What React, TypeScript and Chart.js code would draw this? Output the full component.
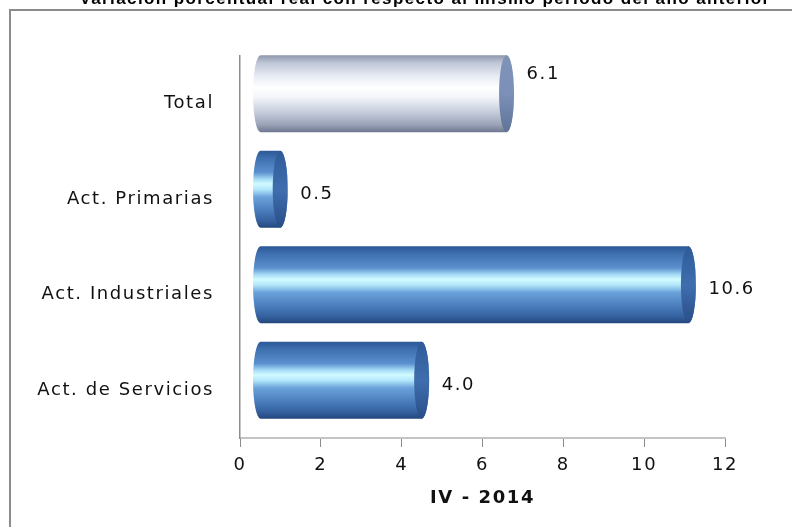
import React, { useEffect, useRef } from "react";
import { Chart, registerables } from "chart.js";

Chart.register(...registerables);

const chartTitle = "Variación porcentual real con respecto al mismo período del año anterior";
const axisTitle = "IV - 2014";
const categories = ["Total", "Act. Primarias", "Act. Industriales", "Act. de Servicios"];
const values = [6.1, 0.5, 10.6, 4.0];
const valueLabels = ["6.1", "0.5", "10.6", "4.0"];
const xMin = 0;
const xMax = 12;
const xStep = 2;

const FONT = "'DejaVu Sans', 'Noto Sans', sans-serif";
const SPACING = "1.6px";

const cylinderPlugin = {
  id: "cylinders",
  beforeDraw(chart: any) {
    const ctx = chart.ctx;
    ctx.save();
    ctx.strokeStyle = "#8c8c8c";
    ctx.lineWidth = 2;
    ctx.beginPath();
    ctx.moveTo(10, 900);
    ctx.lineTo(10, 10);
    ctx.lineTo(900, 10);
    ctx.stroke();
    ctx.restore();
    ctx.letterSpacing = SPACING;
  },
  afterDatasetsDraw(chart: any) {
    const ctx = chart.ctx;
    const meta = chart.getDatasetMeta(0);
    meta.data.forEach((bar: any, i: number) => {
      const p = bar.getProps(["x", "y", "base", "height"], true);
      const dx = 20;
      const dy = -10;
      const rx = 7.5;
      const L = p.base + dx;
      const R = p.x + dx;
      const cy = p.y + dy;
      const ry = p.height / 2;
      const top = cy - ry;
      const bottom = cy + ry;
      const silver = i === 0;
      const g = ctx.createLinearGradient(0, top, 0, bottom);
      if (silver) {
        g.addColorStop(0, "#8e97ad");
        g.addColorStop(0.1, "#bfc6d6");
        g.addColorStop(0.28, "#e9edf5");
        g.addColorStop(0.42, "#ffffff");
        g.addColorStop(0.55, "#f2f4f9");
        g.addColorStop(0.75, "#c3cad9");
        g.addColorStop(0.9, "#9aa3b8");
        g.addColorStop(1, "#6f7890");
      } else {
        g.addColorStop(0, "#2c5896");
        g.addColorStop(0.1, "#3f70b0");
        g.addColorStop(0.28, "#5a8fce");
        g.addColorStop(0.37, "#a6dcf6");
        g.addColorStop(0.43, "#d2faff");
        g.addColorStop(0.5, "#b4e8fb");
        g.addColorStop(0.6, "#6aa2da");
        g.addColorStop(0.78, "#4a7cbc");
        g.addColorStop(0.92, "#335f9c");
        g.addColorStop(1, "#23467c");
      }
      ctx.save();
      ctx.beginPath();
      ctx.ellipse(L, cy, rx, ry, 0, Math.PI / 2, Math.PI * 1.5);
      ctx.lineTo(R, top);
      ctx.ellipse(R, cy, rx, ry, 0, -Math.PI / 2, Math.PI / 2);
      ctx.closePath();
      ctx.fillStyle = g;
      ctx.fill();
      const c = ctx.createLinearGradient(0, top, 0, bottom);
      if (silver) {
        c.addColorStop(0, "#7f92b6");
        c.addColorStop(0.5, "#7c90b8");
        c.addColorStop(1, "#5f7398");
      } else {
        c.addColorStop(0, "#2f5b98");
        c.addColorStop(0.5, "#3f6eae");
        c.addColorStop(1, "#284e88");
      }
      ctx.beginPath();
      ctx.ellipse(R, cy, rx, ry, 0, 0, Math.PI * 2);
      ctx.fillStyle = c;
      ctx.fill();
      ctx.restore();

      ctx.save();
      ctx.letterSpacing = SPACING;
      ctx.font = `18px ${FONT}`;
      ctx.fillStyle = "#111";
      ctx.textAlign = "left";
      ctx.textBaseline = "middle";
      const lift = i === 0 ? -29 : -5;
      ctx.fillText(valueLabels[i], p.x + 40, p.y + lift);
      ctx.restore();
    });
  },
  afterDraw(chart: any) {
    const ctx = chart.ctx;
    ctx.save();
    ctx.letterSpacing = "1.4px";
    ctx.font = `bold 17px 'Liberation Sans', Arial, sans-serif`;
    ctx.fillStyle = "#000";
    ctx.textAlign = "center";
    ctx.textBaseline = "alphabetic";
    ctx.fillText(chartTitle, 425, 4);
    ctx.restore();
  },
};

export default function App() {
  const ref = useRef<HTMLCanvasElement | null>(null);
  useEffect(() => {
    if (!ref.current) return;
    const chart = new Chart(ref.current, {
      type: "bar",
      data: {
        labels: categories,
        datasets: [
          {
            data: values,
            backgroundColor: "rgba(0,0,0,0)",
            borderWidth: 0,
            barPercentage: 0.806,
            categoryPercentage: 1,
          },
        ],
      },
      options: {
        indexAxis: "y",
        animation: false,
        responsive: false,
        layout: { padding: { top: 56, right: 67, left: 0, bottom: 0 } },
        plugins: {
          legend: { display: false },
          tooltip: { enabled: false },
          title: { display: false },
        },
        scales: {
          x: {
            min: xMin,
            max: xMax,
            afterFit: (s: any) => {
              s.height = 89;
            },
            ticks: {
              stepSize: xStep,
              padding: 8,
              color: "#111",
              font: { family: FONT, size: 18 },
            },
            grid: {
              drawOnChartArea: false,
              drawTicks: true,
              tickLength: 9,
              color: "#8a8a8a",
            },
            border: { display: true, color: "#c4c4c4", width: 2 },
            title: {
              display: true,
              text: axisTitle,
              color: "#111",
              font: { family: FONT, size: 18, weight: "bold" },
              padding: { top: 4, bottom: 18 },
            },
          },
          y: {
            afterFit: (s: any) => {
              s.width = 240;
            },
            ticks: {
              padding: 26,
              color: "#111",
              font: { family: FONT, size: 18 },
            },
            grid: { display: false, drawTicks: false },
            border: { display: true, color: "#8c8c8c", width: 1.5 },
          },
        },
      },
      plugins: [cylinderPlugin],
    });
    return () => chart.destroy();
  }, []);
  return (
    <div style={{ position: "absolute", left: 0, top: 0, width: 792, height: 527, background: "#fff" }}>
      <canvas ref={ref} width={792} height={527} />
    </div>
  );
}
